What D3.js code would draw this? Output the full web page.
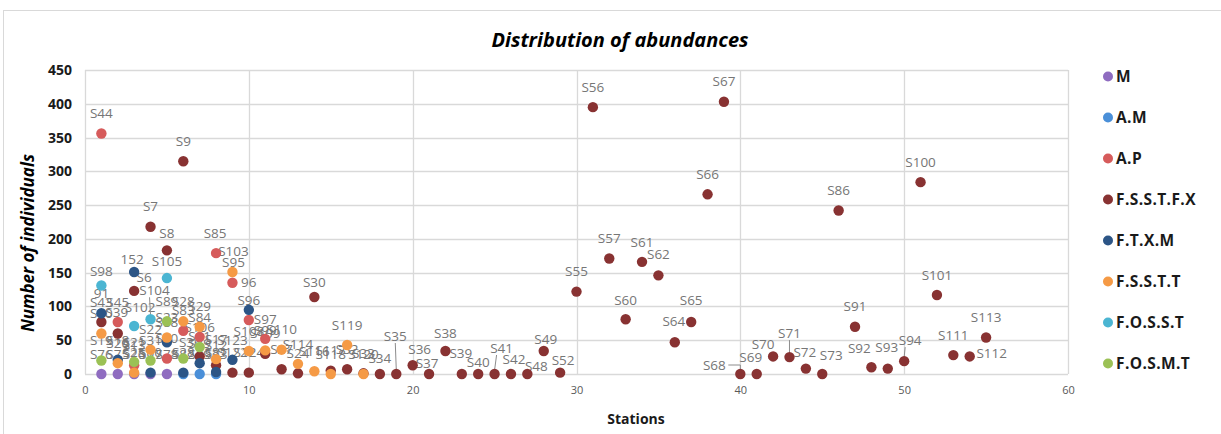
<!DOCTYPE html>
<html>
<head>
<meta charset="utf-8">
<script src="https://cdn.jsdelivr.net/npm/d3@7"></script>
<style>
  body { margin: 0; background: #fff; }
  svg text { font-family: "Open Sans", sans-serif; }
</style>
</head>
<body>
<div id="root"></div>
<script>
// legend / series
const seriesNames = ['M', 'A.M', 'A.P', 'F.S.S.T.F.X', 'F.T.X.M', 'F.S.S.T.T', 'F.O.S.S.T', 'F.O.S.M.T'];
const seriesColors = ['#8f6cc0', '#4a8fd8', '#d65b5b', '#883232', '#2c5586', '#f59a45', '#4bb5d2', '#9bc155'];

// M
const mStations = [1, 2, 3, 4, 5];
const mCounts = [0, 0, 0, 0, 0];
const mLabels = ['S76', 'S75', 'S26', 'S77', 'S78'];

// A.M
const amStations = [6, 7, 8];
const amCounts = [0, 0, 0];
const amLabels = ['S82', 'S29', 'S33'];

// A.P
const apStations = [1, 2, 3, 5, 6, 7, 8, 9, 10, 11];
const apCounts = [356, 77, 13, 23, 64, 55, 179, 135, 80, 52];
const apLabels = ['S44', 'S45', 'S13', 'S90', 'S83', 'S84', 'S85', 'S95', 'S96', 'S97'];

// F.S.S.T.F.X
const fxStations = [1, 2, 3, 4, 5, 6, 7, 8, 9, 10, 11, 12, 13, 14, 15, 16, 17, 18, 19, 20,
  21, 22, 23, 24, 25, 26, 27, 28, 29, 30, 31, 32, 33, 34, 35, 36, 37, 38, 39, 40,
  41, 42, 43, 44, 45, 46, 47, 48, 49, 50, 51, 52, 53, 54, 55];
const fxCounts = [77, 60, 123, 218, 183, 315, 26, 13, 2, 2, 30, 7, 1, 114, 5, 7, 1, 0, 0, 13,
  0, 34, 0, 0, 0, 0, 0, 34, 2, 122, 395, 171, 81, 166, 146, 47, 77, 266, 403, 0,
  0, 26, 25, 8, 0, 242, 70, 10, 8, 19, 284, 117, 28, 26, 54];
const fxLabels = ['S43', 'S39', 'S6', 'S7', 'S8', 'S9', 'S81', 'S12', 'S122', 'S124', 'S109', 'S27', 'S24', 'S30', 'S117', 'S32', 'S33', 'S34', 'S35', 'S36',
  'S37', 'S38', 'S39', 'S40', 'S41', 'S42', 'S48', 'S49', 'S52', 'S55', 'S56', 'S57', 'S60', 'S61', 'S62', 'S64', 'S65', 'S66', 'S67', 'S68',
  'S69', 'S70', 'S71', 'S72', 'S73', 'S86', 'S91', 'S92', 'S93', 'S94', 'S100', 'S101', 'S111', 'S112', 'S113'];

// F.T.X.M
const tmStations = [1, 2, 3, 4, 5, 6, 7, 8, 9, 10];
const tmCounts = [90, 21, 151, 2, 47, 2, 16, 3, 21, 95];
const tmLabels = ['91', 'S18', '152', 'S80', 'S88', 'S28', 'S79', 'S81', 'S123', '96'];

// F.S.S.T.T
const ttStations = [1, 2, 3, 4, 5, 6, 7, 8, 9, 10, 11, 12, 13, 14, 15, 16, 17];
const ttCounts = [60, 16, 2, 36, 54, 78, 70, 22, 151, 34, 35, 36, 15, 4, 0, 43, 0];
const ttLabels = ['S80', 'S20', 'S25', 'S22', 'S23', 'S28', 'S29', 'S17', 'S103', 'S108', 'S99', 'S110', 'S114', 'S116', 'S118', 'S119', 'S120'];

// F.O.S.S.T
const ssStations = [1, 3, 4, 5];
const ssCounts = [131, 71, 81, 142];
const ssLabels = ['S98', 'S102', 'S104', 'S105'];

// F.O.S.M.T
const smStations = [1, 3, 4, 5, 6, 7];
const smCounts = [20, 18, 20, 78, 23, 40];
const smLabels = ['S19', 'S21', 'S31', 'S89', 'S36', 'S106'];

const yTicks = [0, 50, 100, 150, 200, 250, 300, 350, 400, 450];
const xTicks = [0, 10, 20, 30, 40, 50, 60];

// label nudges (px) where the label is not straight above its point
const labelNudge = {
  'S30': [0, -15], 'S35': [-1, -38], 'S36': [7, -16], 'S37': [-2, -11], 'S38': [0, -18],
  'S39': [-1, -21], 'S40': [0, -12], 'S41': [7, -26], 'S42': [3, -15], 'S48': [9, -8],
  'S49': [2, -12], 'S52': [3, -12], 'S60': [0, -19], 'S62': [0, -21], 'S64': [-1, -21],
  'S65': [0, -22], 'S68': [-26, -9], 'S69': [-6, -17], 'S70': [-10, -12], 'S71': [0, -24],
  'S72': [-1, -16], 'S73': [9, -19], 'S92': [-12, -19], 'S93': [-1, -21], 'S94': [6, -21],
  'S112': [22, -3], 'S8': [0, -17], 'S98': [0, -14], '152': [-2, -13], 'S6': [10, -14],
  'S105': [0, -17], 'S104': [4, -29], 'S102': [6, -19], '96': [0, -28], 'S34': [0, -16],
  'S85': [-1, -20], 'S103': [1, -21], 'S95': [1, -21]
};
const leaderLabels = ['S35', 'S41', 'S71', 'S94', 'S104', 'S68'];

const W = 1221, H = 434;

const svg = d3.select('#root')
  .append('svg')
  .attr('width', W)
  .attr('height', H);

// chart border
svg.append('rect')
  .attr('x', 3.5).attr('y', 10.5)
  .attr('width', 1240).attr('height', 440)
  .attr('fill', '#fff')
  .attr('stroke', '#d9d9d9');

const x = d3.scaleLinear().domain([0, 60]).range([85, 1068]);
const y = d3.scaleLinear().domain([0, 450]).range([374, 70]);

// grid
svg.append('g')
  .selectAll('line')
  .data(yTicks)
  .enter()
  .append('line')
  .attr('x1', x(0)).attr('x2', x(60))
  .attr('y1', d => Math.round(y(d)) + 0.5)
  .attr('y2', d => Math.round(y(d)) + 0.5)
  .attr('stroke', '#d9d9d9')
  .attr('stroke-width', 1.3);

svg.append('g')
  .selectAll('line')
  .data(xTicks)
  .enter()
  .append('line')
  .attr('x1', d => Math.round(x(d)) + 0.5)
  .attr('x2', d => Math.round(x(d)) + 0.5)
  .attr('y1', y(450)).attr('y2', y(0))
  .attr('stroke', '#d9d9d9')
  .attr('stroke-width', 1.3);

// y axis labels
const yAxis = svg.append('g')
  .attr('transform', `translate(${x(0)},0)`)
  .call(d3.axisLeft(y).tickValues(yTicks).tickSize(0).tickPadding(13));
yAxis.select('.domain').remove();
yAxis.selectAll('text')
  .attr('font-family', '"Open Sans", sans-serif')
  .attr('font-size', 14)
  .attr('font-weight', 'bold')
  .attr('fill', '#1a1a1a');

// x axis labels
const xAxis = svg.append('g')
  .attr('transform', `translate(0,${y(0)})`)
  .call(d3.axisBottom(x).tickValues(xTicks).tickSize(0).tickPadding(12));
xAxis.select('.domain').remove();
xAxis.selectAll('text')
  .attr('font-family', '"Open Sans", sans-serif')
  .attr('font-size', 11)
  .attr('fill', '#595959');

// titles
svg.append('text')
  .attr('x', 620).attr('y', 47)
  .attr('text-anchor', 'middle')
  .attr('font-size', 20)
  .attr('font-weight', 'bold')
  .attr('font-style', 'italic')
  .attr('fill', '#000')
  .text('Distribution of abundances');

svg.append('text')
  .attr('transform', 'translate(34,243) rotate(-90)')
  .attr('text-anchor', 'middle')
  .attr('font-size', 17)
  .attr('font-weight', 'bold')
  .attr('font-style', 'italic')
  .attr('fill', '#000')
  .text('Number of individuals');

svg.append('text')
  .attr('x', 636).attr('y', 424)
  .attr('text-anchor', 'middle')
  .attr('font-size', 14)
  .attr('font-weight', 'bold')
  .attr('fill', '#1a1a1a')
  .text('Stations');

// build series
const stations = [mStations, amStations, apStations, fxStations, tmStations, ttStations, ssStations, smStations];
const counts = [mCounts, amCounts, apCounts, fxCounts, tmCounts, ttCounts, ssCounts, smCounts];
const labels = [mLabels, amLabels, apLabels, fxLabels, tmLabels, ttLabels, ssLabels, smLabels];

const series = seriesNames.map((name, i) => ({
  name,
  color: seriesColors[i],
  points: stations[i].map((s, j) => ({ x: s, y: counts[i][j], label: labels[i][j] }))
}));

const allPoints = series.flatMap(s => s.points);

// data labels
const labelLayer = svg.append('g');
allPoints.forEach(p => {
  const n = labelNudge[p.label] || [0, -20];
  const px = x(p.x), py = y(p.y);
  const lx = px + n[0], ly = py + n[1];
  if (leaderLabels.includes(p.label)) {
    if (p.label === 'S68') {
      labelLayer.append('path')
        .attr('d', `M${lx + 14},${ly} L${px},${ly} L${px},${py - 4}`)
        .attr('fill', 'none').attr('stroke', '#8c8c8c').attr('stroke-width', 1);
    } else {
      labelLayer.append('line')
        .attr('x1', lx - (n[0] > 0 ? 5 : 0)).attr('y1', ly + 7)
        .attr('x2', px).attr('y2', py - 4)
        .attr('stroke', '#8c8c8c').attr('stroke-width', 1);
    }
  }
  labelLayer.append('text')
    .attr('x', lx).attr('y', ly)
    .attr('dy', '0.35em')
    .attr('text-anchor', 'middle')
    .attr('font-size', 13.5)
    .attr('fill', '#767676')
    .text(p.label);
});

// points
series.forEach(s => {
  svg.append('g')
    .selectAll('circle')
    .data(s.points)
    .enter()
    .append('circle')
    .attr('cx', d => x(d.x))
    .attr('cy', d => y(d.y))
    .attr('r', 5.2)
    .attr('fill', s.color);
});

// legend
const legend = svg.append('g');
seriesNames.forEach((name, i) => {
  const ly = 76.5 + i * 41;
  legend.append('circle')
    .attr('cx', 1108).attr('cy', ly).attr('r', 5)
    .attr('fill', seriesColors[i]);
  legend.append('text')
    .attr('x', 1116).attr('y', ly)
    .attr('dy', '0.35em')
    .attr('font-size', 15.5)
    .attr('font-weight', 'bold')
    .attr('letter-spacing', 0.4)
    .attr('fill', '#1a1a1a')
    .text(name);
});
</script>
</body>
</html>
